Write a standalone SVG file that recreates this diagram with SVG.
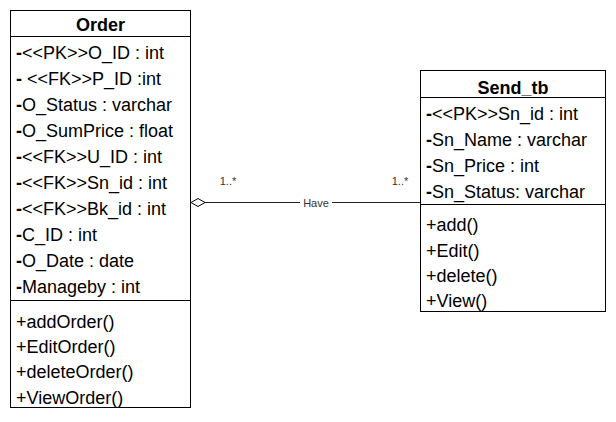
<svg xmlns="http://www.w3.org/2000/svg" width="616" height="422" viewBox="0 0 616 422">
<style>
.box{fill:#fff;stroke:#000;stroke-width:1}
.sep{stroke:#000;stroke-width:1}
.t{font-family:"Liberation Sans",Arial,sans-serif;font-size:18px;fill:#000}
.h{font-family:"Liberation Sans",Arial,sans-serif;font-size:18px;font-weight:bold;fill:#000;text-anchor:middle}
.b{font-weight:bold}
.lbl{font-family:"Liberation Sans",Arial,sans-serif;font-size:11px;fill:#333}
.conn{stroke:#222;stroke-width:1;fill:none}
</style>
<rect width="616" height="422" fill="#fff"/>
<g id="connectors">
<line class="conn" x1="205" y1="202.5" x2="421" y2="202.5"/>
<polygon points="191,202.5 198,198.5 205,202.5 198,206.5" fill="#fff" stroke="#000" stroke-width="1"/>
<rect x="300" y="195" width="32" height="14" fill="#fff"/>
<text class="lbl" x="316" y="206.5" text-anchor="middle" font-size="12">Have</text>
<text class="lbl" x="228" y="185" text-anchor="middle">1..*</text>
<text class="lbl" x="400" y="185" text-anchor="middle">1..*</text>
</g>
<g id="order">
<rect class="box" x="10.5" y="10.5" width="180" height="397"/>
<line class="sep" x1="10.5" y1="36.5" x2="190.5" y2="36.5"/>
<line class="sep" x1="10.5" y1="300.5" x2="190.5" y2="300.5"/>
<text class="h" x="100.5" y="30.5">Order</text>
<text class="t" x="16" y="59"><tspan class="b">-</tspan>&lt;&lt;PK&gt;&gt;O_ID : int</text>
<text class="t" x="16" y="85" xml:space="preserve"><tspan class="b">-</tspan> &lt;&lt;FK&gt;&gt;P_ID :int</text>
<text class="t" x="16" y="111"><tspan class="b">-</tspan>O_Status : varchar</text>
<text class="t" x="16" y="137"><tspan class="b">-</tspan>O_SumPrice : float</text>
<text class="t" x="16" y="163"><tspan class="b">-</tspan>&lt;&lt;FK&gt;&gt;U_ID : int</text>
<text class="t" x="16" y="189"><tspan class="b">-</tspan>&lt;&lt;FK&gt;&gt;Sn_id : int</text>
<text class="t" x="16" y="215"><tspan class="b">-</tspan>&lt;&lt;FK&gt;&gt;Bk_id : int</text>
<text class="t" x="16" y="241"><tspan class="b">-</tspan>C_ID : int</text>
<text class="t" x="16" y="267"><tspan class="b">-</tspan>O_Date : date</text>
<text class="t" x="16" y="293"><tspan class="b">-</tspan>Manageby : int</text>
<text class="t" x="16" y="328">+addOrder()</text>
<text class="t" x="16" y="353">+EditOrder()</text>
<text class="t" x="16" y="378">+deleteOrder()</text>
<text class="t" x="16" y="403.5">+ViewOrder()</text>
</g>
<g id="send_tb">
<rect class="box" x="420.5" y="70.5" width="185" height="241"/>
<line class="sep" x1="420.5" y1="97.5" x2="605.5" y2="97.5"/>
<line class="sep" x1="420.5" y1="204.5" x2="605.5" y2="204.5"/>
<text class="h" x="513" y="93.5">Send_tb</text>
<text class="t" x="426" y="119.5"><tspan class="b">-</tspan>&lt;&lt;PK&gt;&gt;Sn_id : int</text>
<text class="t" x="426" y="145.5"><tspan class="b">-</tspan>Sn_Name : varchar</text>
<text class="t" x="426" y="171.5"><tspan class="b">-</tspan>Sn_Price : int</text>
<text class="t" x="426" y="197.5"><tspan class="b">-</tspan>Sn_Status: varchar</text>
<text class="t" x="426" y="231">+add()</text>
<text class="t" x="426" y="257">+Edit()</text>
<text class="t" x="426" y="282">+delete()</text>
<text class="t" x="426" y="307">+View()</text>
</g>
</svg>
